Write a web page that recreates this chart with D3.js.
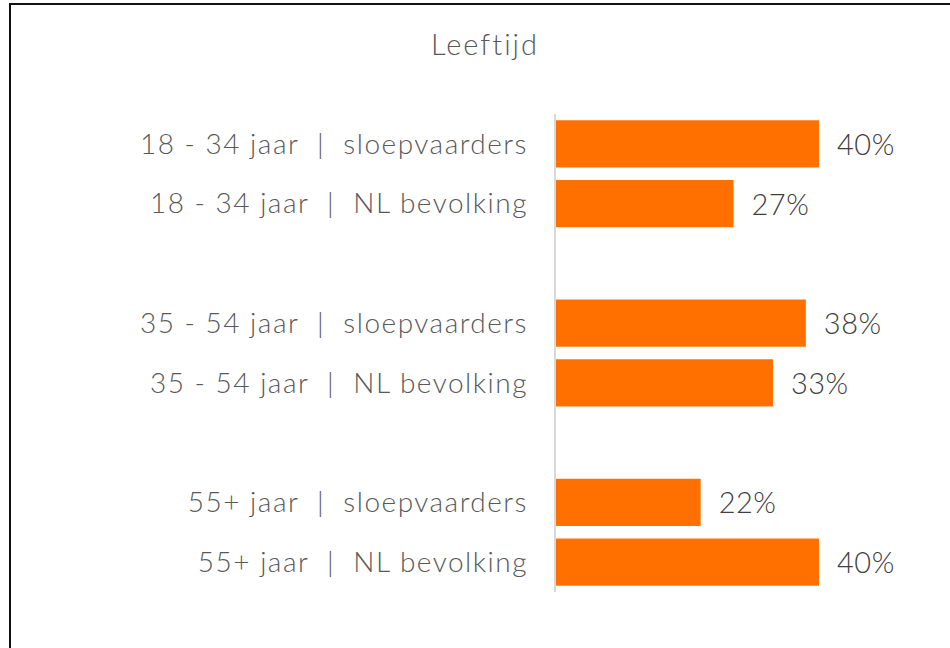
<!DOCTYPE html>
<html>
<head>
<meta charset="utf-8">
<script src="https://cdn.jsdelivr.net/npm/d3@7"></script>
<style>
  body { margin: 0; background: #fff; }
  svg text { font-family: "Lato", "Open Sans", sans-serif; font-weight: 300; }
</style>
</head>
<body>
<div id="grafiek"></div>
<script>
/////////// DATOS /////////
var titel = "Leeftijd";
var groepen = ["18 - 34 jaar", "35 - 54 jaar", "55+ jaar"];
var reeksen = ["sloepvaarders", "NL bevolking"];
var sloepvaarders = [40, 38, 22];
var nlBevolking = [27, 33, 40];

/////////// AFMETINGEN /////////
var W = 950, H = 648;
var margin = {top: 114, left: 556};
var height = 478;

var svg = d3.select("#grafiek").append("svg")
  .attr("width", W)
  .attr("height", H);

// kader
svg.append("rect")
  .attr("x", 10).attr("y", 4)
  .attr("width", W + 20).attr("height", H + 20)
  .attr("fill", "none")
  .attr("stroke", "#111")
  .attr("stroke-width", 2);

// rijen opbouwen: per groep twee balken, daarna een lege rij
var rijen = [];
groepen.forEach(function(g, i) {
  rijen.push({label: g + "  |  " + reeksen[0], waarde: sloepvaarders[i], slot: i * 3});
  rijen.push({label: g + "  |  " + reeksen[1], waarde: nlBevolking[i], slot: i * 3 + 1});
});

var y = d3.scaleBand()
  .domain(d3.range(8))
  .range([margin.top, margin.top + height])
  .paddingInner(0.21)
  .paddingOuter(0.105);

var x = d3.scaleLinear()
  .domain([0, 40])
  .range([margin.left, margin.left + 263]);

/////////// TITEL /////////
svg.append("text")
  .attr("x", 485)
  .attr("y", 55)
  .attr("text-anchor", "middle")
  .attr("font-size", "29px")
  .attr("letter-spacing", "2px")
  .attr("fill", "#595959")
  .text(titel);

/////////// BALKEN /////////
svg.append("g")
  .selectAll("rect")
  .data(rijen)
  .enter()
  .append("rect")
    .attr("x", x(0))
    .attr("y", function(d) { return y(d.slot); })
    .attr("width", function(d) { return x(d.waarde) - x(0); })
    .attr("height", y.bandwidth())
    .attr("fill", "#FF7000");

// as-lijn
svg.append("line")
  .attr("x1", x(0) - 1).attr("x2", x(0) - 1)
  .attr("y1", margin.top).attr("y2", margin.top + height)
  .attr("stroke", "#d9d9d9")
  .attr("stroke-width", 2);

/////////// LABELS /////////
svg.append("g")
  .selectAll("text")
  .data(rijen)
  .enter()
  .append("text")
    .attr("x", 528)
    .attr("y", function(d) { return y(d.slot) + y.bandwidth() / 2; })
    .attr("dy", "0.35em")
    .attr("text-anchor", "end")
    .attr("font-size", "28px")
    .attr("letter-spacing", "1.5px")
    .attr("fill", "#595959")
    .attr("xml:space", "preserve")
    .style("white-space", "pre")
    .text(function(d) { return d.label; });

svg.append("g")
  .selectAll("text")
  .data(rijen)
  .enter()
  .append("text")
    .attr("x", function(d) { return x(d.waarde) + 18; })
    .attr("y", function(d) { return y(d.slot) + y.bandwidth() / 2; })
    .attr("dy", "0.38em")
    .attr("font-size", "29px")
    .attr("letter-spacing", "0.5px")
    .attr("fill", "#404040")
    .text(function(d) { return d.waarde + "%"; });
</script>
</body>
</html>
